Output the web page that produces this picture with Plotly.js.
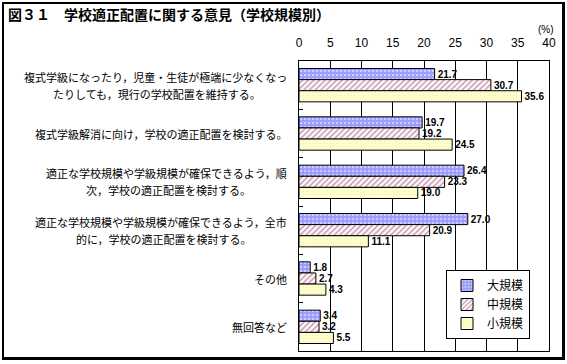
<!DOCTYPE html>
<html>
<head>
<meta charset="utf-8">
<script src="https://cdn.plot.ly/plotly-3.0.1.min.js"></script>
<style>
  html, body { margin: 0; padding: 0; background: #fff; }
  #wrap { position: relative; width: 567px; height: 364px; }
  #chart { width: 567px; height: 364px; }
  #frame {
    position: absolute; left: 2px; top: 2px; width: 558px; height: 353px;
    border-left: 2px solid #000; border-top: 2px solid #000;
    border-right: 3px solid #000; border-bottom: 3px solid #000;
    pointer-events: none;
  }
</style>
</head>
<body>
<div id="wrap">
  <div id="chart"></div>
  <div id="frame"></div>
</div>
<script>
// ---- data ----
const categories = [
  "複式学級になったり，児童・生徒が極端に少なくなっ<br>たりしても，現行の学校配置を維持する。",
  "複式学級解消に向け，学校の適正配置を検討する。",
  "適正な学校規模や学級規模が確保できるよう，順<br>次，学校の適正配置を検討する。",
  "適正な学校規模や学級規模が確保できるよう，全市<br>的に，学校の適正配置を検討する。",
  "その他",
  "無回答など"
];
const seriesNames = ["大規模", "中規模", "小規模"];
const large = [21.7, 19.7, 26.4, 27.0, 1.8, 3.4];
const medium = [30.7, 19.2, 23.3, 20.9, 2.7, 3.2];
const small = [35.6, 24.5, 19.0, 11.1, 4.3, 5.5];
const xTicks = [0, 5, 10, 15, 20, 25, 30, 35, 40];

// ---- styles ----
const labelFont = { family: "Arial, 'Liberation Sans', sans-serif", size: 10, color: "#000", weight: "bold" };
function barTrace(name, vals, pattern) {
  return {
    type: "bar", orientation: "h", name: name,
    y: categories, x: vals,
    text: vals.map(v => v.toFixed(1)),
    textposition: "outside", cliponaxis: false, constraintext: "none",
    textfont: labelFont,
    marker: { color: pattern.bgcolor, line: { color: "#000", width: 1 }, pattern: pattern },
    hoverinfo: "skip"
  };
}
const traces = [
  barTrace(seriesNames[0], large, { shape: ".", bgcolor: "#9999FF", fgcolor: "#FFFFFF", fillmode: "overlay", size: 4, solidity: 0.35 }),
  barTrace(seriesNames[1], medium, { shape: "/", bgcolor: "#FFFFFF", fgcolor: "#993366", fillmode: "overlay", size: 4, solidity: 0.4 }),
  barTrace(seriesNames[2], small, { shape: ".", bgcolor: "#FFFFCC", fgcolor: "#E6E6B8", fillmode: "overlay", size: 3, solidity: 0.2 })
];

const L = 299, R = 549, T = 61, B = 351;
const catFontSize = 11;
const catFontFamily = "'Noto Sans CJK JP', sans-serif";
const labelRight = 289; // px, right edge of category labels
const ctx = document.createElement("canvas").getContext("2d");
ctx.font = catFontSize + "px " + catFontFamily;

const annotations = [];
categories.forEach(c => {
  const lines = c.split("<br>");
  const font = { family: catFontFamily, size: catFontSize, color: "#000" };
  if (lines.length === 1) {
    annotations.push({
      xref: "paper", yref: "y", x: (labelRight - L) / (R - L), y: c,
      xanchor: "right", yanchor: "middle", text: lines[0], showarrow: false, font: font
    });
  } else {
    const w1 = ctx.measureText(lines[0]).width;
    const center = labelRight - w1 / 2;
    annotations.push({
      xref: "paper", yref: "y", x: (labelRight - L) / (R - L), y: c, yshift: 8.5,
      xanchor: "right", yanchor: "middle", text: lines[0], showarrow: false, font: font
    });
    annotations.push({
      xref: "paper", yref: "y", x: (center - L) / (R - L), y: c, yshift: -8.5,
      xanchor: "center", yanchor: "middle", text: lines[1], showarrow: false, font: font
    });
  }
});
annotations.push({
  xref: "paper", yref: "paper", x: (546 - L) / (R - L), y: 1 + (T - 30) / (B - T),
  xanchor: "center", yanchor: "middle", text: "(%)", showarrow: false,
  font: { family: "'Liberation Sans Narrow', 'Liberation Sans', sans-serif", size: 10, color: "#000" }
});

const layout = {
  width: 567, height: 364,
  margin: { l: L, r: 567 - R, t: T, b: 364 - B, pad: 0 },
  paper_bgcolor: "#fff", plot_bgcolor: "#fff",
  barmode: "group", bargap: 0.31, bargroupgap: 0,
  showlegend: true,
  title: {
    text: "図３１　学校適正配置に関する意見（学校規模別）",
    xref: "container", yref: "container", x: 8 / 567, y: 1 - 15 / 364,
    xanchor: "left", yanchor: "middle",
    font: { family: "'Noto Sans CJK JP', sans-serif", size: 14, weight: "bold", color: "#000" }
  },
  xaxis: {
    side: "top", range: [0, 40], tickvals: xTicks, ticktext: xTicks.map(String),
    showgrid: true, gridcolor: "#000", gridwidth: 1,
    showline: true, linecolor: "#000", linewidth: 1, mirror: true,
    zeroline: false, ticks: "", ticklabelstandoff: 8,
    tickfont: { family: "'Liberation Sans Narrow', 'Liberation Sans', sans-serif", size: 12, color: "#000" },
    fixedrange: true
  },
  yaxis: {
    type: "category", categoryorder: "array", categoryarray: categories,
    autorange: "reversed", showticklabels: false,
    ticks: "inside", tickson: "boundaries", ticklen: 4, tickcolor: "#000",
    showgrid: false, showline: true, linecolor: "#000", linewidth: 1, mirror: true,
    fixedrange: true
  },
  legend: {
    x: (446 - L) / (R - L), y: (B - 270) / (B - T), xanchor: "left", yanchor: "top",
    bgcolor: "#fff", bordercolor: "#000", borderwidth: 1,
    font: { family: "'Noto Sans CJK JP', sans-serif", size: 12, color: "#000" },
    itemwidth: 30, tracegroupgap: 0, traceorder: "normal"
  },
  annotations: annotations
};

Plotly.newPlot("chart", traces, layout, { staticPlot: true });
</script>
</body>
</html>
